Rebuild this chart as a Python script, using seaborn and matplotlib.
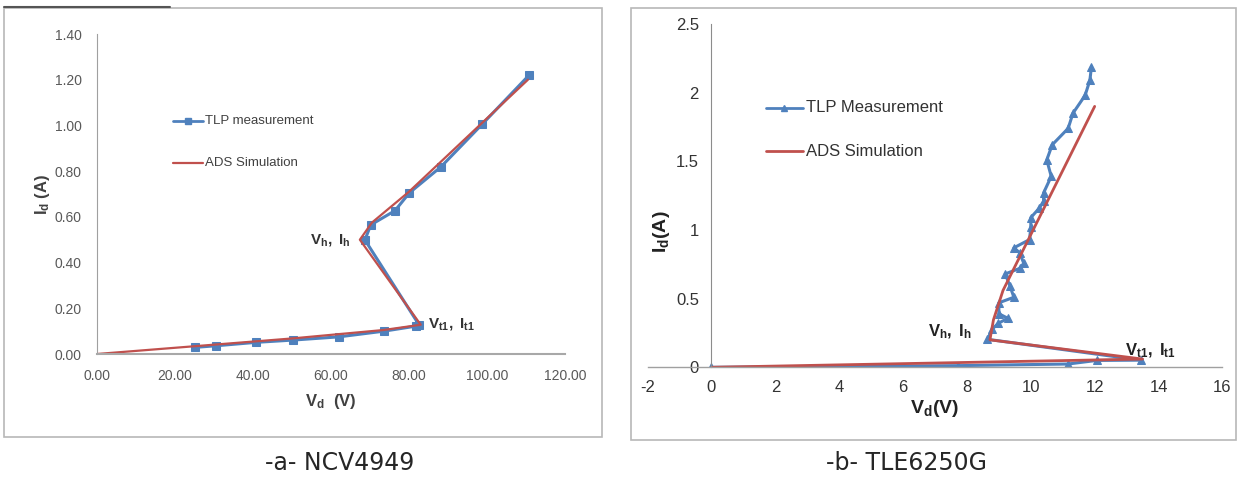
import numpy as np
import pandas as pd
import matplotlib
matplotlib.use("Agg")
import matplotlib.pyplot as plt
from matplotlib.patches import Rectangle
from matplotlib.lines import Line2D
import seaborn as sns

# DATA - NCV4949 (panel a)
a_tlp_v = [25.1, 30.5, 40.8, 50.3, 62.0, 73.6, 81.8, 82.6, 68.7, 70.2, 76.4, 80.1, 88.2, 98.8, 110.8]
a_tlp_i = [0.029, 0.036, 0.051, 0.061, 0.075, 0.100, 0.122, 0.127, 0.499, 0.565, 0.627, 0.705, 0.819, 1.006, 1.22]
a_ads_v = [0.0, 25.0, 50.0, 73.5, 83.0, 67.4, 70.5, 80.0, 110.5]
a_ads_i = [0.0, 0.034, 0.068, 0.105, 0.128, 0.50, 0.575, 0.71, 1.20]

# DATA - TLE6250G (panel b)
b_tlp_v = [0.0, 7.72, 11.17, 12.06, 13.45, 8.64, 8.8, 8.98, 9.28, 9.0, 9.0, 9.47, 9.35, 9.2, 9.65, 9.78,
           9.65, 9.47, 9.96, 10.0, 10.0, 10.27, 10.4, 10.4, 10.64, 10.5, 10.67, 11.17, 11.32, 11.7, 11.85, 11.9]
b_tlp_i = [0.0, 0.012, 0.024, 0.05, 0.052, 0.204, 0.28, 0.32, 0.357, 0.39, 0.47, 0.51, 0.59, 0.68, 0.72, 0.757,
           0.835, 0.87, 0.93, 1.02, 1.09, 1.16, 1.21, 1.27, 1.39, 1.51, 1.62, 1.74, 1.85, 1.98, 2.09, 2.19]
b_ads_v = [0.0, 13.5, 8.72, 8.83, 9.13, 12.0]
b_ads_i = [0.0, 0.06, 0.2, 0.345, 0.56, 1.90]

a_xticks = [0, 20, 40, 60, 80, 100, 120]
a_yticks = [0, 0.2, 0.4, 0.6, 0.8, 1.0, 1.2, 1.4]
b_xticks = [-2, 0, 2, 4, 6, 8, 10, 12, 14, 16]
b_yticks = [0, 0.5, 1, 1.5, 2, 2.5]
captions = ["-a- NCV4949", "-b- TLE6250G"]

BLUE = "#4F81BD"
RED = "#C0504D"

sns.set_theme(style="white")
plt.rcParams['font.family'] = ['Liberation Sans', 'DejaVu Sans']
plt.rcParams['mathtext.fontset'] = 'custom'
plt.rcParams['mathtext.rm'] = 'Liberation Sans'
plt.rcParams['mathtext.bf'] = 'Liberation Sans:bold'
plt.rcParams['mathtext.it'] = 'Liberation Sans:italic'

fig = plt.figure(figsize=(12.37, 4.82), dpi=100)
W, H = 1237, 482

def fx(px):
    return px / W

def fy(py):
    return 1 - py / H

# panel frames
fig.patches.append(Rectangle((fx(4), fy(437)), fx(602 - 4), (437 - 8) / H, transform=fig.transFigure,
                             fill=False, edgecolor="#b8b8b8", lw=1.2))
fig.patches.append(Rectangle((fx(631), fy(440)), fx(1236 - 631), (440 - 8) / H, transform=fig.transFigure,
                             fill=False, edgecolor="#b8b8b8", lw=1.2))
fig.lines.append(Line2D([fx(4), fx(170)], [fy(7), fy(7)], transform=fig.transFigure, color="#555555", lw=1.5))

# ---- panel a ----
ax1 = fig.add_axes([fx(97), fy(354), fx(565 - 97), (354 - 34) / H])
df_a1 = pd.DataFrame({"v": a_tlp_v, "i": a_tlp_i})
df_a2 = pd.DataFrame({"v": a_ads_v, "i": a_ads_i})
sns.lineplot(data=df_a1, x="v", y="i", sort=False, estimator=None, color=BLUE, lw=2.2,
             marker="s", markersize=5.5, markeredgecolor=BLUE, ax=ax1)
sns.lineplot(data=df_a2, x="v", y="i", sort=False, estimator=None, color=RED, lw=1.6, ax=ax1)
ax1.set_xlim(0, 120)
ax1.set_ylim(0, 1.4)
ax1.set_xticks(a_xticks)
ax1.set_xticklabels([f"{t:.2f}" for t in a_xticks])
ax1.set_yticks(a_yticks)
ax1.set_yticklabels([f"{t:.2f}" for t in a_yticks])
ax1.tick_params(axis="both", labelsize=10, colors="#595959", length=0, pad=11)
for s in ["top", "right"]:
    ax1.spines[s].set_visible(False)
ax1.spines["left"].set_color("#a0a0a0")
ax1.spines["left"].set_linewidth(0.8)
ax1.spines["bottom"].set_color("#a8a8a8")
ax1.spines["bottom"].set_linewidth(1.5)
ax1.set_xlabel(r"$\mathbf{V_d}$  (V)", fontsize=12, fontweight="bold", color="#404040", labelpad=6)
ax1.set_ylabel(r"$\mathbf{I_d}$ (A)", fontsize=12, fontweight="bold", color="#404040", labelpad=2)
ax1.patch.set_alpha(0)
# legend a
fig.lines.append(Line2D([fx(173), fx(188), fx(203)], [fy(121)] * 3, transform=fig.transFigure, color=BLUE, lw=2,
                        marker="s", markersize=4.5, markevery=[1], markeredgecolor=BLUE))
fig.lines.append(Line2D([fx(173), fx(203)], [fy(163), fy(163)], transform=fig.transFigure, color=RED, lw=1.6))
fig.text(fx(205), fy(121), "TLP measurement", fontsize=9.5, color="#404040", va="center")
fig.text(fx(205), fy(163), "ADS Simulation", fontsize=9.5, color="#404040", va="center")
ax1.text(65, 0.50, r"$\mathbf{V_{h},\ I_{h}}$", fontsize=11, ha="right", va="center", color="#333333")
ax1.text(85, 0.13, r"$\mathbf{V_{t1},\ I_{t1}}$", fontsize=11, ha="left", va="center", color="#333333")

# ---- panel b ----
ax2 = fig.add_axes([fx(647.6), fy(367.3), fx(1222.4 - 647.6), (367.3 - 24) / H])
df_b1 = pd.DataFrame({"v": b_tlp_v, "i": b_tlp_i})
df_b2 = pd.DataFrame({"v": b_ads_v, "i": b_ads_i})
sns.lineplot(data=df_b1, x="v", y="i", sort=False, estimator=None, color=BLUE, lw=2.2,
             marker="^", markersize=6, markeredgecolor=BLUE, ax=ax2)
sns.lineplot(data=df_b2, x="v", y="i", sort=False, estimator=None, color=RED, lw=2, ax=ax2)
ax2.set_xlim(-2, 16)
ax2.set_ylim(0, 2.5)
ax2.set_xticks(b_xticks)
ax2.set_xticklabels([str(t) for t in b_xticks])
ax2.set_yticks(b_yticks)
ax2.set_yticklabels([f"{t:g}" for t in b_yticks])
ax2.tick_params(axis="both", labelsize=12, colors="#333333", length=0, pad=9)
for s in ["top", "right"]:
    ax2.spines[s].set_visible(False)
ax2.spines["left"].set_position(("data", 0))
ax2.spines["left"].set_color("#8c8c8c")
ax2.spines["left"].set_linewidth(0.8)
ax2.spines["bottom"].set_color("#a0a0a0")
ax2.spines["bottom"].set_linewidth(1.0)
ax2.set_xlabel(r"$\mathbf{V_d}$(V)", fontsize=14, fontweight="bold", color="#222222", labelpad=2)
ax2.set_ylabel("")
fig.text(fx(662), fy(232), r"$\mathbf{I_d}$(A)", fontsize=14, fontweight="bold", color="#222222",
         rotation=90, ha="center", va="center")
ax2.patch.set_alpha(0)
# legend b
fig.lines.append(Line2D([fx(766), fx(784), fx(803)], [fy(108)] * 3, transform=fig.transFigure, color=BLUE, lw=2,
                        marker="^", markersize=5, markevery=[1], markeredgecolor=BLUE))
fig.lines.append(Line2D([fx(766), fx(803)], [fy(151), fy(151)], transform=fig.transFigure, color=RED, lw=2))
fig.text(fx(806), fy(108), "TLP Measurement", fontsize=12, color="#333333", va="center")
fig.text(fx(806), fy(151), "ADS Simulation", fontsize=12, color="#333333", va="center")
ax2.text(8.15, 0.26, r"$\mathbf{V_{h},\ I_{h}}$", fontsize=12, ha="right", va="center", color="#222222")
ax2.text(12.95, 0.12, r"$\mathbf{V_{t1},\ I_{t1}}$", fontsize=12, ha="left", va="center", color="#222222")

# captions
fig.text(fx(340), fy(463), captions[0], fontsize=17, ha="center", va="center",
         family=["Liberation Sans Narrow", "DejaVu Sans"])
fig.text(fx(907), fy(463), captions[1], fontsize=17, ha="center", va="center",
         family=["Liberation Sans Narrow", "DejaVu Sans"])

fig.savefig("out.png", dpi=100)
